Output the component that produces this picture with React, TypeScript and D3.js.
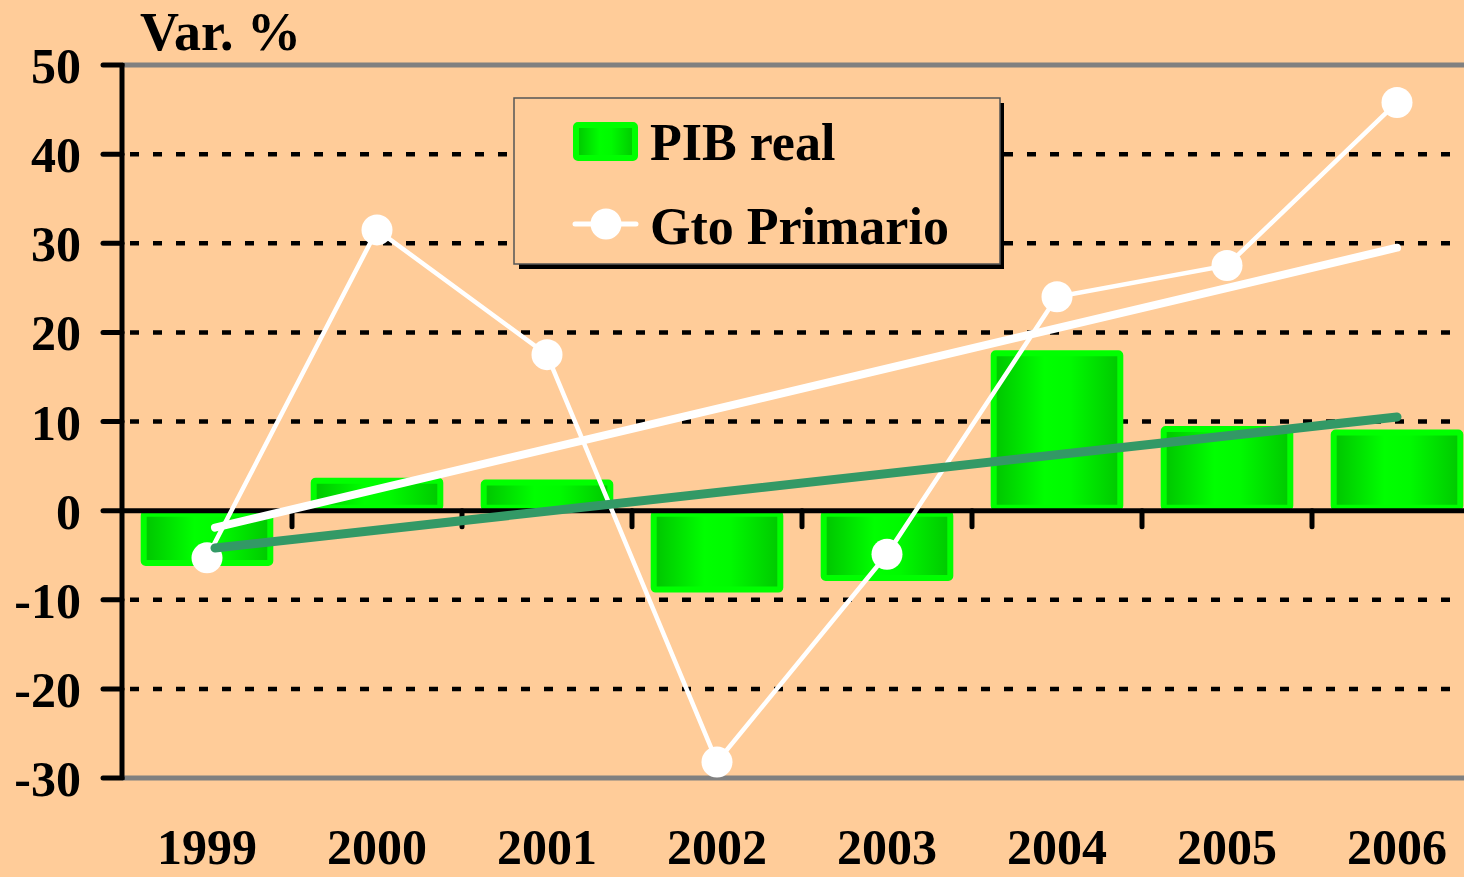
import React, { useEffect } from "react";
import * as d3 from "d3";

// datos
const years = ["1999", "2000", "2001", "2002", "2003", "2004", "2005", "2006"];
const pibReal = [-6.2, 3.7, 3.5, -9.2, -7.9, 18.0, 9.5, 9.1];
const gtoPrimario = [-5.3, 31.5, 17.5, -28.2, -4.9, 24.0, 27.5, 45.8];
// tendencias (valor en 1999 y 2006)
const trendGto = [-1.9, 29.5];
const trendPib = [-4.2, 10.5];
const yTicks = [50, 40, 30, 20, 10, 0, -10, -20, -30];

const W = 1464;
const H = 877;
const FONT = "'Liberation Serif', 'Times New Roman', serif";
const BG = "#FFCC99";

export default function App() {
	useEffect(() => {
		document.body.style.margin = "0";
		document.body.style.background = BG;
	}, []);

	const x = d3
		.scaleBand()
		.domain(years)
		.range([122, 1482])
		.paddingInner(0.22)
		.paddingOuter(0.11);
	const y = d3.scaleLinear().domain([-30, 50]).range([778, 65]);
	const step = x.step();
	const cx = (yr: string) => (x(yr) || 0) + x.bandwidth() / 2;

	const line = d3
		.line<number>()
		.x((_, i) => cx(years[i]))
		.y((d) => y(d));

	// la tendencia arranca un poco a la derecha del centro de 1999
	const trendLine = (t: number[]) =>
		d3
			.line<number>()
			.x((_, i) => (i === 0 ? cx(years[0]) + 8 : cx(years[years.length - 1])))
			.y((d) => y(d))(t) || "";

	const barRect = (x0: number, y0: number, w: number, h: number, key?: string) => (
		<rect
			key={key}
			x={x0 + 3}
			y={y0 + 3}
			width={Math.max(0, w - 6)}
			height={Math.max(0, h - 6)}
			rx={2}
			fill="url(#barGrad)"
			stroke="#00FF00"
			strokeWidth={6}
		/>
	);

	return (
		<svg width={W} height={H} style={{ display: "block", background: BG }} fontFamily={FONT}>
			<defs>
				<linearGradient id="barGrad" x1="0" x2="1" y1="0" y2="0">
					<stop offset="0" stopColor="#00C400" />
					<stop offset="0.4" stopColor="#00FF00" />
					<stop offset="0.6" stopColor="#00FA00" />
					<stop offset="1" stopColor="#00C800" />
				</linearGradient>
			</defs>
			<rect width={W} height={H} fill={BG} />

			{/* título eje */}
			<text x={140} y={50} fontSize={54} fontWeight="bold">
				Var. %
			</text>

			{/* líneas de cuadrícula */}
			{yTicks.map((t) => {
				if (t === 0) return null;
				const edge = t === 50 || t === -30;
				return (
					<line
						key={"g" + t}
						x1={122}
						x2={W}
						y1={y(t)}
						y2={y(t)}
						stroke={edge ? "#808080" : "#000"}
						strokeWidth={edge ? 5 : 4.5}
						strokeDasharray={edge ? undefined : "9 14"}
						strokeDashoffset={edge ? undefined : -8}
					/>
				);
			})}

			{/* barras PIB real */}
			{pibReal.map((v, i) => {
				const x0 = x(years[i]) || 0;
				const top = y(Math.max(0, v));
				const h = Math.abs(y(v) - y(0));
				return barRect(x0, top, x.bandwidth(), h, "b" + i);
			})}

			{/* eje y */}
			<line x1={122} x2={122} y1={y(50) - 2} y2={y(-30) + 2} stroke="#000" strokeWidth={5} />
			{yTicks.map((t) => (
				<g key={"t" + t}>
					<line x1={103} x2={122} y1={y(t)} y2={y(t)} stroke="#000" strokeWidth={5} strokeLinecap="round" />
					<text x={81} y={y(t)} dy="0.36em" textAnchor="end" fontSize={50} fontWeight="bold">
						{t}
					</text>
				</g>
			))}

			{/* eje x en cero */}
			<line x1={122} x2={W} y1={y(0)} y2={y(0)} stroke="#000" strokeWidth={5} />
			{years.slice(1).map((yr) => (
				<line
					key={"xt" + yr}
					x1={(x(yr) || 0) - (step - x.bandwidth()) / 2}
					x2={(x(yr) || 0) - (step - x.bandwidth()) / 2}
					y1={y(0)}
					y2={y(0) + 16}
					stroke="#000"
					strokeWidth={5}
					strokeLinecap="round"
				/>
			))}
			{years.map((yr) => (
				<text key={"xl" + yr} x={cx(yr)} y={864} textAnchor="middle" fontSize={50} fontWeight="bold">
					{yr}
				</text>
			))}

			{/* Gto Primario */}
			<path d={line(gtoPrimario) || ""} fill="none" stroke="#fff" strokeWidth={4.5} />
			{gtoPrimario.map((v, i) => (
				<circle key={"m" + i} cx={cx(years[i])} cy={y(v)} r={15.5} fill="#fff" />
			))}

			{/* tendencias */}
			<path d={trendLine(trendGto)} fill="none" stroke="#fff" strokeWidth={8} strokeLinecap="round" />
			<path d={trendLine(trendPib)} fill="none" stroke="#339966" strokeWidth={9} strokeLinecap="round" />

			{/* leyenda */}
			<g>
				<rect x={519} y={103} width={485} height={166} fill="#000" />
				<rect x={514} y={98} width={486} height={166} fill={BG} stroke="#555" strokeWidth={1.5} />
				{barRect(573, 122, 65, 39)}
				<text x={650} y={160} fontSize={52} fontWeight="bold">
					PIB real
				</text>
				<line x1={575} x2={636} y1={224} y2={224} stroke="#fff" strokeWidth={5} strokeLinecap="round" />
				<circle cx={606} cy={224} r={15.5} fill="#fff" />
				<text x={650} y={244} fontSize={52} fontWeight="bold">
					Gto Primario
				</text>
			</g>
		</svg>
	);
}
